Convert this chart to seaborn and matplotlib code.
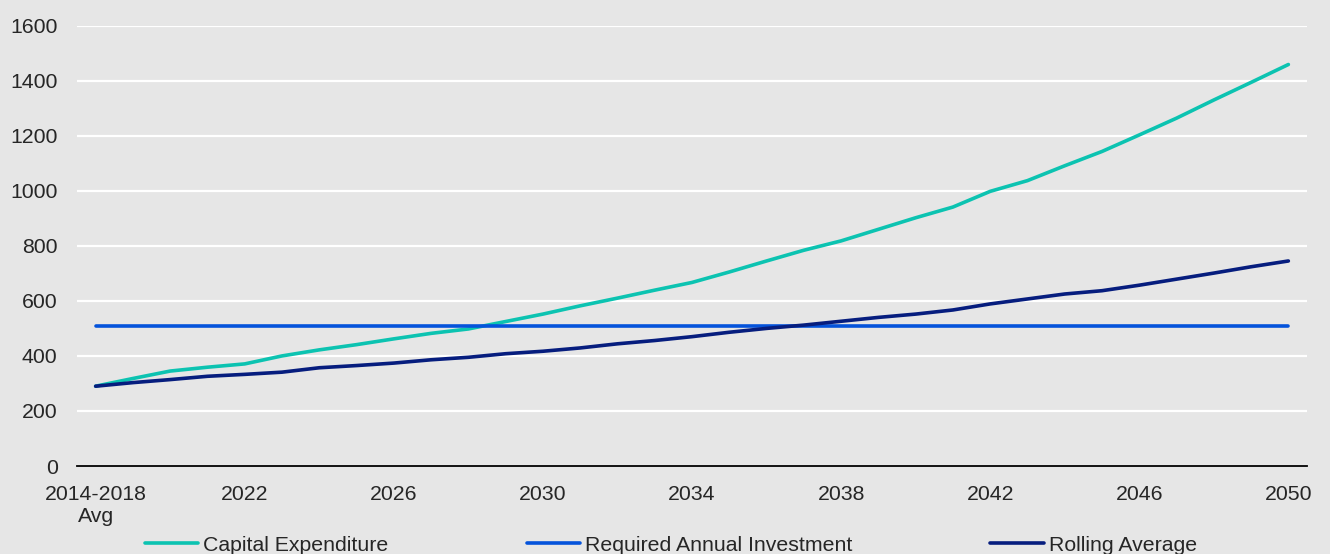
import numpy as np
import pandas as pd
import matplotlib.pyplot as plt
import seaborn as sns

categories = ['2014-2018\nAvg'] + [str(y) for y in range(2019, 2051)]
capital_expenditure = [290, 318, 345, 359, 371, 400, 422, 441, 462, 482, 498, 525, 552, 582, 610, 639,
                       667, 705, 745, 784, 818, 860, 902, 941, 998, 1037, 1091, 1143, 1203, 1264, 1330, 1394, 1459]
required_investment = 508
rolling_average = [290, 303, 314, 326, 333, 341, 357, 365, 374, 386, 395, 408, 417, 429, 444, 456,
                   470, 486, 500, 512, 526, 540, 552, 567, 589, 607, 625, 637, 657, 679, 701, 724, 745]
y_ticks = [0, 200, 400, 600, 800, 1000, 1200, 1400, 1600]

bg = '#E6E6E6'
sns.set_style('white', {'axes.facecolor': bg, 'figure.facecolor': bg})
plt.rcParams['font.family'] = ['Liberation Sans', 'DejaVu Sans']
fs = 15.3

df = pd.DataFrame({
    'pos': np.arange(len(categories)),
    'Capital Expenditure': capital_expenditure,
    'Required Annual Investment': required_investment,
    'Rolling Average': rolling_average,
})
long = df.melt(id_vars='pos', var_name='series', value_name='value')

fig = plt.figure(figsize=(13.3, 5.54), dpi=100)
ax = fig.add_axes([77 / 1330, 88 / 554, 1230 / 1330, 440.3 / 554])

palette = {'Capital Expenditure': '#0CC3B1',
           'Required Annual Investment': '#0453DB',
           'Rolling Average': '#061D7E'}
sns.lineplot(data=long, x='pos', y='value', hue='series', palette=palette,
             linewidth=2.6, ax=ax, legend=True, zorder=3, solid_capstyle='round')

ax.set_xlim(-0.5, len(categories) - 0.5)
ax.set_ylim(0, 1600)
ax.set_yticks(y_ticks)
ax.set_yticklabels([str(v) for v in y_ticks], fontsize=fs)
ax.grid(axis='y', color='white', linewidth=1.6)
ax.grid(axis='x', visible=False)
ax.set_axisbelow(True)

# tick marks sit between categories, labels on every 4th category
ax.set_xticks(np.arange(-0.5, len(categories) - 1, 4))
ax.set_xticklabels([])
ax.set_xticks(np.arange(0, len(categories), 4), minor=True)
ax.set_xticklabels(categories[::4], minor=True, fontsize=fs)
ax.tick_params(axis='x', which='major', direction='in', length=6, width=1.3, color='black')
ax.tick_params(axis='x', which='minor', length=0, pad=13.5)
ax.tick_params(axis='y', length=0, pad=14)

for s in ['top', 'right', 'left']:
    ax.spines[s].set_visible(False)
ax.spines['bottom'].set_color('black')
ax.spines['bottom'].set_linewidth(1.3)
ax.set_xlabel('')
ax.set_ylabel('')

handles, labels = ax.get_legend_handles_labels()
ax.legend_.remove()
fig.legend(handles, labels, loc='center', bbox_to_anchor=(0.5045, 0.016), ncol=3,
           frameon=False, fontsize=fs, handlelength=2.5, handletextpad=0.24,
           columnspacing=6.5, borderpad=0, borderaxespad=0)

fig.savefig('out.png', dpi=100, facecolor=bg)
